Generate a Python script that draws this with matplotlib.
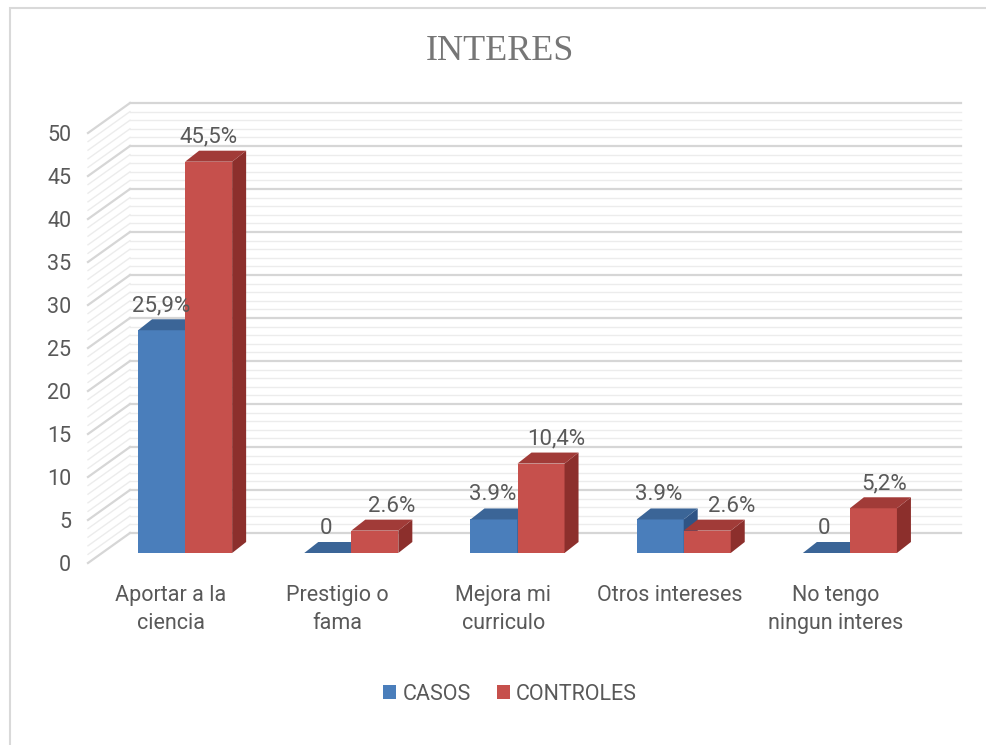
import matplotlib
matplotlib.use('Agg')
import matplotlib.pyplot as plt
from matplotlib.patches import Polygon, Rectangle, Patch

# data
categories = ['Aportar a la\nciencia', 'Prestigio o\nfama', 'Mejora mi\ncurriculo',
              'Otros intereses', 'No tengo\nningun interes']
casos = [25.9, 0, 3.9, 3.9, 0]
controles = [45.5, 2.6, 10.4, 2.6, 5.2]
casos_labels = ['25,9%', '0', '3.9%', '3.9%', '0']
controles_labels = ['45,5%', '2.6%', '10,4%', '2.6%', '5,2%']
series_names = ['CASOS', 'CONTROLES']

# label nudges (pixels to the right), as placed in the original
casos_nudge = [0, -2, -1, -1, -2]
controles_nudge = [0, 17, 15, 24, 11]

# colours: front, top, side
blue = ('#4a7ebb', '#3b6597', '#2f5485')
red = ('#c6504c', '#a13b38', '#8c2f2c')
txt = '#595959'
font = 'Roboto'
fs = 15.5

W, H = 987, 745
fig = plt.figure(figsize=(W / 100, H / 100), dpi=100)

# front plane of the 3d box, in pixels
left, right, base, top = 88, 919, 563, 133
ax = fig.add_axes([left / W, 1 - base / H, (right - left) / W, (base - top) / H])
ax.set_xlim(-0.5, 4.5)
ax.set_ylim(0, 50)
ux = 5 / (right - left)      # data units per pixel
uy = 50 / (base - top)

# wall depth (pixels) and bar placement inside the depth
wdx, wdy = 42, 30
fx, fy = 14 * ux, 10 * uy    # bar front offset
dx, dy = 14 * ux, 11 * uy    # bar depth
bw = 0.283

# back wall + left wall grid
for v in range(0, 51):
    major = v % 5 == 0
    col = '#d6d6d6' if major else '#ececec'
    lw = 1.6 if major else 1.0
    bx0 = -0.5 + wdx * ux
    by = v + wdy * uy
    ax.plot([bx0, 4.5 + wdx * ux], [by, by], color=col, lw=lw, clip_on=False, zorder=1)
    ax.plot([-0.5, bx0], [v, by], color=col, lw=lw, clip_on=False, zorder=1)


def bar3d(x0, v, cols):
    xa, xb = x0 + fx, x0 + bw + fx
    ax.add_patch(Polygon([[xa, fy], [xb, fy], [xb, v + fy], [xa, v + fy]],
                         closed=True, fc=cols[0], ec='none', zorder=3, clip_on=False))
    ax.add_patch(Polygon([[xb, fy], [xb + dx, fy + dy], [xb + dx, v + fy + dy], [xb, v + fy]],
                         closed=True, fc=cols[2], ec='none', zorder=3, clip_on=False))
    ax.add_patch(Polygon([[xa, v + fy], [xb, v + fy], [xb + dx, v + fy + dy], [xa + dx, v + fy + dy]],
                         closed=True, fc=cols[1], ec='none', zorder=3, clip_on=False))


series = [(casos, casos_labels, casos_nudge, blue),
          (controles, controles_labels, controles_nudge, red)]
for i in range(len(categories)):
    for s, (vals, labs, nudge, cols) in enumerate(series):
        x0 = i - bw + s * bw
        bar3d(x0, vals[i], cols)
        ax.text(x0 + fx + bw / 2 + nudge[i] * ux, vals[i] + fy + dy + 3 * uy, labs[i],
                ha='center', va='bottom', fontsize=fs + 0.5, color=txt, family=font, zorder=4)

for sp in ax.spines.values():
    sp.set_visible(False)
ax.set_facecolor('none')
ax.set_yticks(range(0, 51, 5))
ax.set_xticks(range(len(categories)))
ax.set_xticklabels(categories, linespacing=1.45)
ax.tick_params(axis='y', length=0, pad=12, labelsize=fs, labelcolor=txt)
ax.tick_params(axis='x', length=0, pad=16, labelsize=fs, labelcolor=txt)
for lab in ax.get_xticklabels() + ax.get_yticklabels():
    lab.set_family(font)

fig.text(500 / W, 1 - 51 / H, 'INTERES', ha='center', va='center', fontsize=26,
         color='#767676', family='Liberation Serif')

handles = [Patch(fc=blue[0]), Patch(fc=red[0])]
leg = fig.legend(handles, series_names, loc='center', bbox_to_anchor=(510 / W, 1 - 694 / H),
                 ncol=2, frameon=False, handlelength=0.6, handleheight=0.6,
                 handletextpad=0.3, columnspacing=1.2, prop={'family': font, 'size': fs})
for t in leg.get_texts():
    t.set_color(txt)

# chart border
fig.add_artist(Rectangle((10 / W, -0.05), 1.1, 1 - 8 / H + 0.05, transform=fig.transFigure,
                         fill=False, ec='#d9d9d9', lw=1.5))

fig.savefig('out.png', dpi=100)
